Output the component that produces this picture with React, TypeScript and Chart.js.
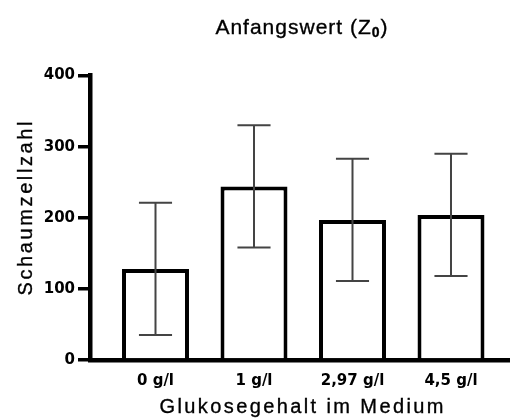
import React, { useEffect, useRef } from 'react';
import { Chart, registerables } from 'chart.js';

Chart.register(...registerables);

// ---- data ----
const categories = ['0 g/l', '1 g/l', '2,97 g/l', '4,5 g/l'];
const means = [128, 244, 197, 204];
const errors = [93, 86, 86, 86];
const yTicks = [0, 100, 200, 300, 400];

const titleMain = 'Anfangswert (Z';
const titleSub = '0';
const titleEnd = ')';
const xTitle = 'Glukosegehalt im Medium';
const yTitle = 'Schaumzellzahl';

const TICK_FONT = '"DejaVu Sans", "Liberation Sans", Arial, sans-serif';
const TITLE_FONT = '"Liberation Sans", Arial, Helvetica, sans-serif';

function spacedWidth(ctx: CanvasRenderingContext2D, text: string, spacing: number) {
  (ctx as any).letterSpacing = spacing + 'px';
  return ctx.measureText(text).width;
}

const customPlugin = {
  id: 'customDecor',
  beforeDraw(chart: any) {
    (chart.ctx as any).letterSpacing = '0px';
  },
  afterDatasetsDraw(chart: any) {
    const { ctx } = chart;
    const x = chart.scales.x;
    const y = chart.scales.y;
    ctx.save();
    ctx.strokeStyle = '#444';
    ctx.lineWidth = 2;
    const step = x.getPixelForValue(1) - x.getPixelForValue(0);
    const cap = step * 0.168;
    means.forEach((m, i) => {
      const px = x.getPixelForValue(i);
      const hi = y.getPixelForValue(m + errors[i]);
      const lo = y.getPixelForValue(m - errors[i]);
      ctx.beginPath();
      ctx.moveTo(px, hi);
      ctx.lineTo(px, lo);
      ctx.moveTo(px - cap, hi);
      ctx.lineTo(px + cap, hi);
      ctx.moveTo(px - cap, lo);
      ctx.lineTo(px + cap, lo);
      ctx.stroke();
    });
    ctx.restore();
  },
  afterDraw(chart: any) {
    const ctx: CanvasRenderingContext2D = chart.ctx;
    const area = chart.chartArea;
    const cx = (area.left + area.right) / 2;
    ctx.save();
    ctx.fillStyle = '#000';
    ctx.strokeStyle = '#000';
    ctx.lineWidth = 0.35;
    ctx.textBaseline = 'alphabetic';
    ctx.textAlign = 'left';

    const put = (t: string, x0: number, y0: number) => {
      ctx.fillText(t, x0, y0);
      ctx.strokeText(t, x0, y0);
    };

    // chart title with subscript
    const f1 = `normal 21px ${TITLE_FONT}`;
    const f2 = `bold 14px ${TITLE_FONT}`;
    const s1 = 1.0;
    ctx.font = f1;
    const w1 = spacedWidth(ctx, titleMain, s1);
    ctx.font = f2;
    const w2 = spacedWidth(ctx, titleSub, s1);
    ctx.font = f1;
    const w3 = spacedWidth(ctx, titleEnd, s1) - s1;
    let tx = cx + 1.5 - (w1 + w2 + w3) / 2;
    const ty = 33.5;
    ctx.font = f1;
    (ctx as any).letterSpacing = s1 + 'px';
    put(titleMain, tx, ty);
    tx += w1;
    ctx.font = f2;
    (ctx as any).letterSpacing = s1 + 'px';
    put(titleSub, tx, ty + 3.5);
    tx += w2;
    ctx.font = f1;
    (ctx as any).letterSpacing = s1 + 'px';
    put(titleEnd, tx, ty);

    // x axis title
    const fx = `normal 20px ${TITLE_FONT}`;
    const sx = 2.4;
    ctx.font = fx;
    const wx = spacedWidth(ctx, xTitle, sx) - sx;
    put(xTitle, cx + 1.5 - wx / 2, 413);

    // y axis title (rotated)
    const sy = 2.6;
    ctx.font = fx;
    const wy = spacedWidth(ctx, yTitle, sy) - sy;
    ctx.translate(31.5, 208.5);
    ctx.rotate(-Math.PI / 2);
    put(yTitle, -wy / 2, 0);
    ctx.restore();
  },
};

export default function App() {
  const canvasRef = useRef<HTMLCanvasElement | null>(null);

  useEffect(() => {
    const canvas = canvasRef.current;
    if (!canvas) return;
    const tickFont = { family: TICK_FONT, size: 15, weight: 'bold' as const };
    const chart = new Chart(canvas, {
      type: 'bar',
      data: {
        datasets: [
          {
            data: means.map((m, i) => ({ x: i, y: m })),
            backgroundColor: '#ffffff',
            borderColor: '#000000',
            borderWidth: 4,
            borderSkipped: 'start',
            barPercentage: 0.68,
            categoryPercentage: 1,
          },
        ],
      },
      options: {
        animation: false,
        responsive: false,
        devicePixelRatio: 1,
        layout: { padding: { top: 75.5, left: 0, right: 0, bottom: 0 } },
        plugins: {
          legend: { display: false },
          title: { display: false },
          tooltip: { enabled: false },
        },
        scales: {
          x: {
            type: 'linear',
            min: -0.665,
            max: 3.599,
            offset: false,
            afterBuildTicks: (s: any) => {
              s.ticks = categories.map((_, i) => ({ value: i }));
            },
            afterFit: (s: any) => {
              s.height = 60;
            },
            grid: { display: false, drawTicks: false },
            border: { display: true, color: '#000', width: 4.5 },
            ticks: {
              callback: (v: any) => categories[v] ?? '',
              font: tickFont,
              color: '#000',
              padding: 12,
              maxRotation: 0,
              autoSkip: false,
            },
          },
          y: {
            type: 'linear',
            min: 0,
            max: 400,
            afterBuildTicks: (s: any) => {
              s.ticks = yTicks.map((v) => ({ value: v }));
            },
            afterFit: (s: any) => {
              s.width = 90;
            },
            grid: {
              drawOnChartArea: false,
              drawTicks: true,
              tickLength: 12,
              lineWidth: 3.5,
              color: '#000',
            },
            border: { display: true, color: '#000', width: 4.5 },
            ticks: { font: tickFont, color: '#000', padding: 3 },
          },
        },
      } as any,
      plugins: [customPlugin as any],
    });
    return () => chart.destroy();
  }, []);

  return (
    <div style={{ position: 'absolute', left: 0, top: 0, width: 510, height: 420, background: '#fff' }}>
      <canvas ref={canvasRef} width={510} height={420} style={{ display: 'block' }} />
    </div>
  );
}
